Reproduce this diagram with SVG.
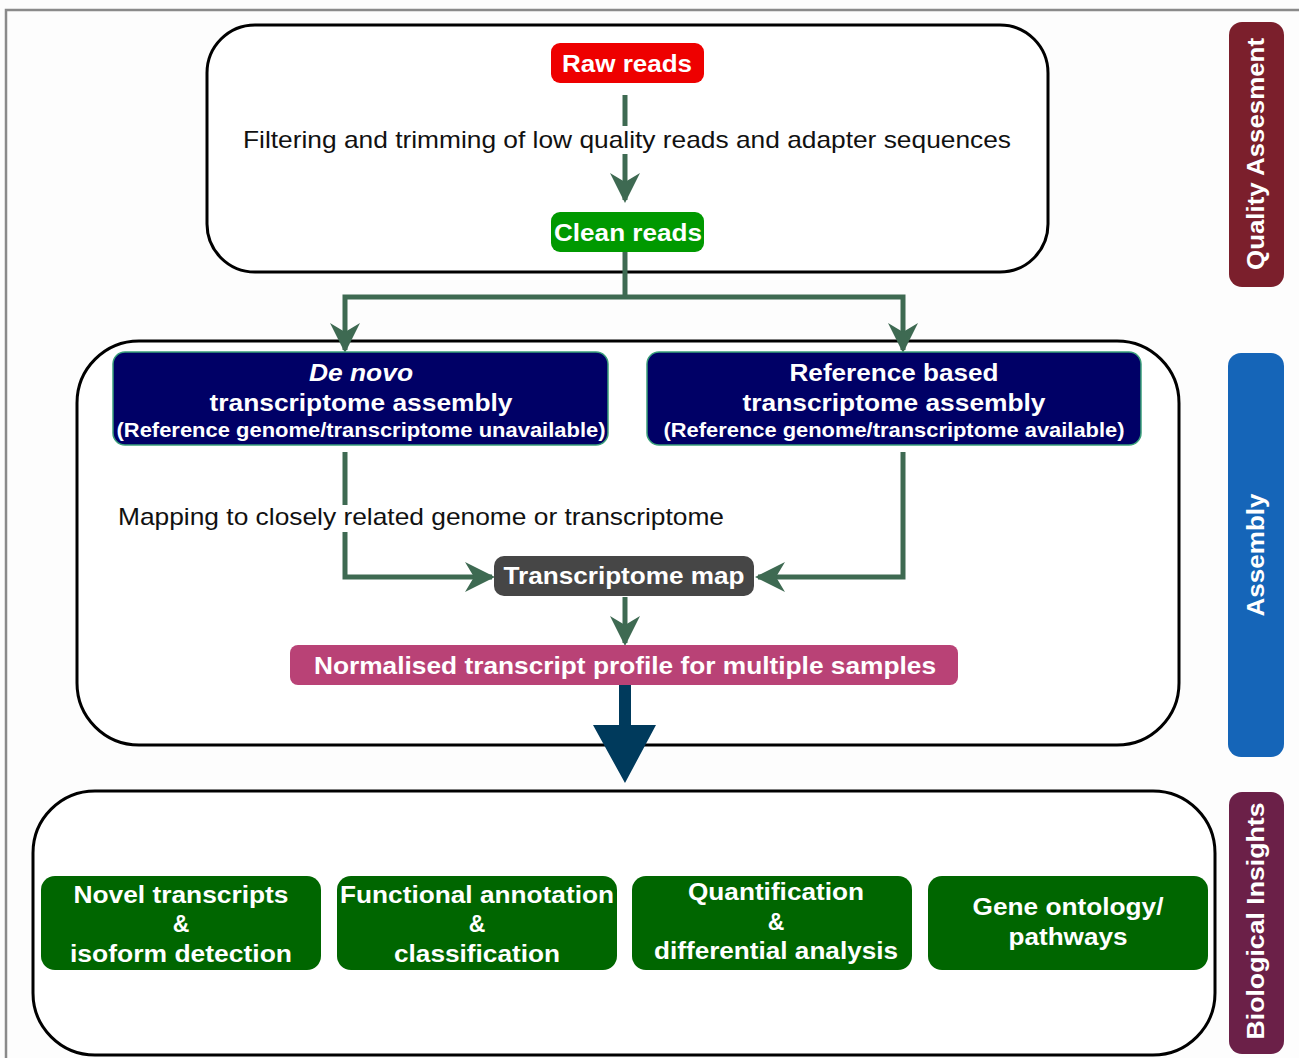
<svg xmlns="http://www.w3.org/2000/svg" width="1299" height="1058" viewBox="0 0 1299 1058">
<defs>
<style>
.frame{fill:none;stroke:#8a8a8a;stroke-width:2.5}
.stage{fill:#fff;stroke:#000;stroke-width:3}
.conn{fill:none;stroke:#3e6a52;stroke-width:5}
.lbl{font-family:"Liberation Sans",Arial,sans-serif;font-size:24px;fill:#111}
.t{font-family:"Liberation Sans",Arial,sans-serif;font-weight:bold;fill:#fff;text-anchor:middle}
.green{fill:#006600}
.asm{fill:#000066;stroke:#3aa07a;stroke-width:1.5}
</style>
<marker id="ah" viewBox="0 0 10 10" refX="9" refY="5" markerWidth="6" markerHeight="6" markerUnits="strokeWidth" orient="auto">
<path d="M0,0 L10,5 L0,10 L3,5 z" fill="#3e6a52"/>
</marker>
</defs>
<rect x="0" y="0" width="1299" height="1058" fill="#fdfdfd"/>
<path class="frame" d="M6,1058 V10 H1299"/>

<g id="stage-boxes">
<rect class="stage" x="207" y="25" width="841" height="247" rx="48"/>
<rect class="stage" x="77" y="341" width="1102" height="404" rx="62"/>
<rect class="stage" x="33" y="791" width="1182" height="264" rx="62"/>
</g>

<g id="connectors">
<line class="conn" x1="625" y1="95" x2="625" y2="200" marker-end="url(#ah)"/>
<path class="conn" d="M625,252 V297"/>
<path class="conn" d="M625,297 H345 V350" marker-end="url(#ah)"/>
<path class="conn" d="M625,297 H903 V350" marker-end="url(#ah)"/>
<path class="conn" d="M345,452 V577 H492" marker-end="url(#ah)"/>
<path class="conn" d="M903,452 V577 H758" marker-end="url(#ah)"/>
<line class="conn" x1="625" y1="597" x2="625" y2="643" marker-end="url(#ah)"/>
<rect x="240" y="126" width="775" height="28" fill="#fff"/>
<text class="lbl" x="243" y="148" textLength="768" lengthAdjust="spacingAndGlyphs">Filtering and trimming of low quality reads and adapter sequences</text>
<rect x="330" y="505" width="30" height="27" fill="#fff"/>
<text class="lbl" x="118" y="525" textLength="606" lengthAdjust="spacingAndGlyphs">Mapping to closely related genome or transcriptome</text>
<path d="M619,685 H631 V725 H656 L625,783 L593,725 H619 Z" fill="#003a5c"/>
</g>

<g id="raw-reads">
<rect x="551" y="43" width="153" height="40" rx="9" fill="#ee0000"/>
<text class="t" x="627" y="72" font-size="24" textLength="130" lengthAdjust="spacingAndGlyphs">Raw reads</text>
</g>

<g id="clean-reads">
<rect x="551" y="212" width="153" height="40" rx="9" fill="#009900"/>
<text class="t" x="628" y="241" font-size="24" textLength="148" lengthAdjust="spacingAndGlyphs">Clean reads</text>
</g>

<g id="de-novo">
<rect class="asm" x="113" y="352" width="495" height="93" rx="12"/>
<text class="t" x="361" y="381" font-size="24" font-style="italic" textLength="104" lengthAdjust="spacingAndGlyphs">De novo</text>
<text class="t" x="361" y="411" font-size="24" textLength="303" lengthAdjust="spacingAndGlyphs">transcriptome assembly</text>
<text class="t" x="361" y="437" font-size="20" textLength="489" lengthAdjust="spacingAndGlyphs">(Reference genome/transcriptome unavailable)</text>
</g>

<g id="reference-based">
<rect class="asm" x="647" y="352" width="494" height="93" rx="12"/>
<text class="t" x="894" y="381" font-size="24" textLength="209" lengthAdjust="spacingAndGlyphs">Reference based</text>
<text class="t" x="894" y="411" font-size="24" textLength="303" lengthAdjust="spacingAndGlyphs">transcriptome assembly</text>
<text class="t" x="894" y="437" font-size="20" textLength="461" lengthAdjust="spacingAndGlyphs">(Reference genome/transcriptome available)</text>
</g>

<g id="transcriptome-map">
<rect x="494" y="556" width="260" height="40" rx="10" fill="#464646"/>
<text class="t" x="624" y="584" font-size="24" textLength="241" lengthAdjust="spacingAndGlyphs">Transcriptome map</text>
</g>

<g id="normalised">
<rect x="290" y="645" width="668" height="40" rx="8" fill="#b94276"/>
<text class="t" x="625" y="674" font-size="23" textLength="622" lengthAdjust="spacingAndGlyphs">Normalised transcript profile for multiple samples</text>
</g>

<g id="novel">
<rect class="green" x="41" y="876" width="280" height="94" rx="14"/>
<text class="t" x="181" y="903" font-size="23" textLength="215" lengthAdjust="spacingAndGlyphs">Novel transcripts</text>
<text class="t" x="181" y="932" font-size="23">&amp;</text>
<text class="t" x="181" y="962" font-size="23" textLength="222" lengthAdjust="spacingAndGlyphs">isoform detection</text>
</g>

<g id="functional">
<rect class="green" x="337" y="876" width="280" height="94" rx="14"/>
<text class="t" x="477" y="903" font-size="23" textLength="274" lengthAdjust="spacingAndGlyphs">Functional annotation</text>
<text class="t" x="477" y="932" font-size="23">&amp;</text>
<text class="t" x="477" y="962" font-size="23" textLength="166" lengthAdjust="spacingAndGlyphs">classification</text>
</g>

<g id="quantification">
<rect class="green" x="632" y="876" width="280" height="94" rx="14"/>
<text class="t" x="776" y="900" font-size="23" textLength="176" lengthAdjust="spacingAndGlyphs">Quantification</text>
<text class="t" x="776" y="930" font-size="23">&amp;</text>
<text class="t" x="776" y="959" font-size="23" textLength="244" lengthAdjust="spacingAndGlyphs">differential analysis</text>
</g>

<g id="gene-ontology">
<rect class="green" x="928" y="876" width="280" height="94" rx="14"/>
<text class="t" x="1068" y="915" font-size="23" textLength="191" lengthAdjust="spacingAndGlyphs">Gene ontology/</text>
<text class="t" x="1068" y="945" font-size="23" textLength="119" lengthAdjust="spacingAndGlyphs">pathways</text>
</g>

<g id="quality-bar">
<rect x="1229" y="22" width="55" height="265" rx="13" fill="#7b1f2c"/>
<text class="t" font-size="24" transform="translate(1264,154) rotate(-90)" textLength="232" lengthAdjust="spacingAndGlyphs">Quality Assesment</text>
</g>

<g id="assembly-bar">
<rect x="1228" y="353" width="56" height="404" rx="13" fill="#1565b8"/>
<text class="t" font-size="24" transform="translate(1264,555) rotate(-90)" textLength="123" lengthAdjust="spacingAndGlyphs">Assembly</text>
</g>

<g id="bio-bar">
<rect x="1229" y="792" width="55" height="262" rx="13" fill="#6b2048"/>
<text class="t" font-size="24" transform="translate(1264,921) rotate(-90)" textLength="237" lengthAdjust="spacingAndGlyphs">Biological Insights</text>
</g>
</svg>
